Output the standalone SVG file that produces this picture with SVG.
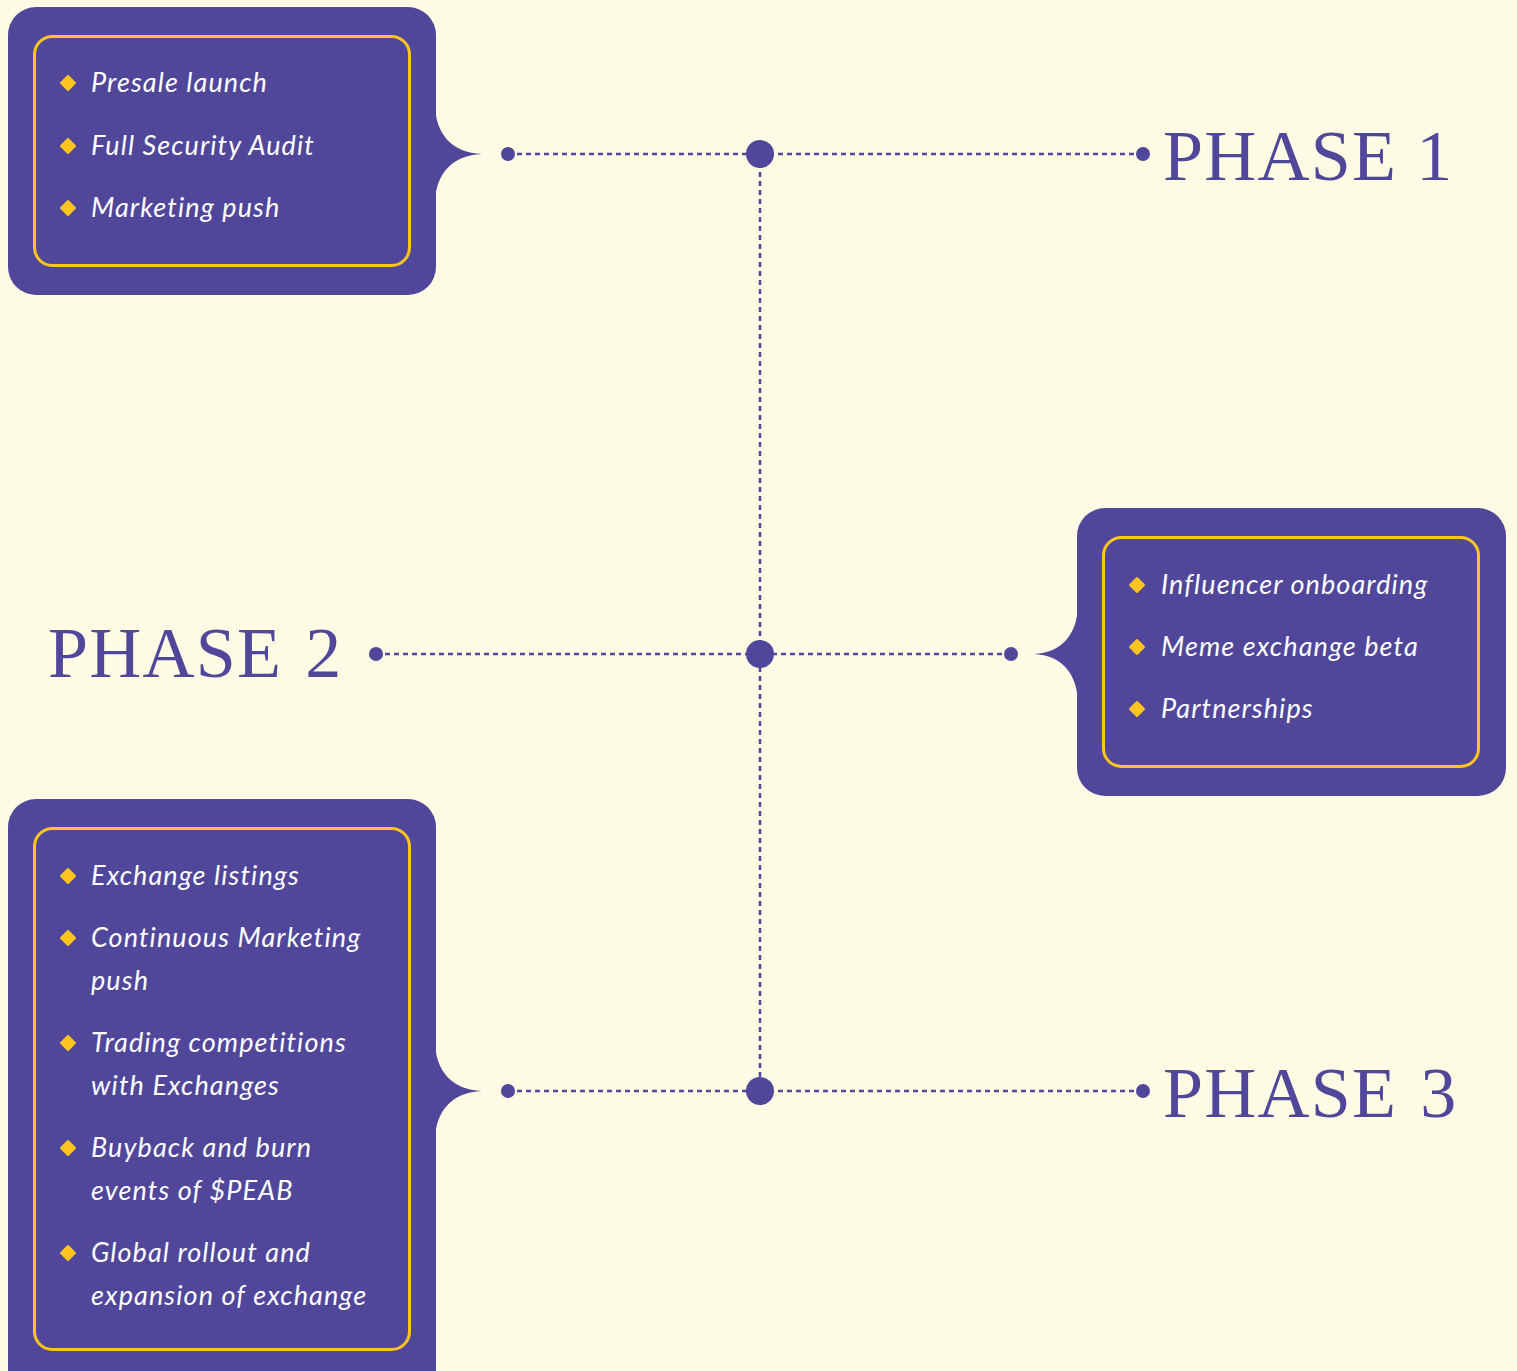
<svg xmlns="http://www.w3.org/2000/svg" width="1517" height="1371" viewBox="0 0 1517 1371">
<defs>
<style>
.bg{fill:#FDFBE3}
.card{fill:#51479A}
.inner{fill:none;stroke:#FFC51E;stroke-width:3}
.item{font-family:Lato,"Open Sans",sans-serif;font-style:italic;font-size:27px;letter-spacing:1.1px;fill:#FFFFFF}
.phase{font-family:"Liberation Serif","DejaVu Serif",serif;font-size:72px;letter-spacing:1.2px;fill:#51479A}
.dash{stroke:#51479A;stroke-width:2.5;stroke-dasharray:5 4;fill:none}
.dot{fill:#51479A}
.bul{fill:#FFC51E}
</style>
<path id="diamond" d="M0,-7 L7,0 L0,7 L-7,0 Z" stroke="#FFC51E" stroke-width="2" stroke-linejoin="round"/>
</defs>
<rect class="bg" x="0" y="0" width="1517" height="1371"/>

<g id="connectors">
<line class="dash" x1="760" y1="154" x2="760" y2="1091"/>
<line class="dash" x1="508" y1="154" x2="1143" y2="154"/>
<line class="dash" x1="376" y1="654" x2="1011" y2="654"/>
<line class="dash" x1="508" y1="1091" x2="1143" y2="1091"/>
<circle class="dot" cx="760" cy="154" r="14"/>
<circle class="dot" cx="760" cy="654" r="14"/>
<circle class="dot" cx="760" cy="1091" r="14"/>
<circle class="dot" cx="508" cy="154" r="7"/>
<circle class="dot" cx="1143" cy="154" r="7"/>
<circle class="dot" cx="376" cy="654" r="7"/>
<circle class="dot" cx="1011" cy="654" r="7"/>
<circle class="dot" cx="508" cy="1091" r="7"/>
<circle class="dot" cx="1143" cy="1091" r="7"/>
</g>

<g id="card1">
<rect class="card" x="8" y="7" width="428" height="288" rx="28"/>
<path class="card" d="M435,106 C436,134 452,153 482,154 C452,155 436,174 435,202 Z"/>
<rect class="inner" x="34.5" y="36.5" width="375" height="229" rx="18"/>
<use href="#diamond" class="bul" x="68" y="83"/>
<use href="#diamond" class="bul" x="68" y="146"/>
<use href="#diamond" class="bul" x="68" y="208"/>
<text class="item" x="91" y="92">Presale launch</text>
<text class="item" x="91" y="155">Full Security Audit</text>
<text class="item" x="91" y="217">Marketing push</text>
</g>

<g id="phase1"><text class="phase" x="1163" y="180">PHASE 1</text></g>
<g id="phase2"><text class="phase" x="48" y="677">PHASE <tspan dx="4">2</tspan></text></g>
<g id="phase3"><text class="phase" x="1163" y="1117">PHASE <tspan dx="4">3</tspan></text></g>

<g id="card2">
<rect class="card" x="1077" y="508" width="429" height="288" rx="28"/>
<path class="card" d="M1078,606 C1077,634 1062,653 1034,654 C1062,655 1077,674 1078,702 Z"/>
<rect class="inner" x="1103.5" y="537.5" width="375" height="229" rx="18"/>
<use href="#diamond" class="bul" x="1137" y="585"/>
<use href="#diamond" class="bul" x="1137" y="647"/>
<use href="#diamond" class="bul" x="1137" y="709"/>
<text class="item" x="1161" y="594">Influencer onboarding</text>
<text class="item" x="1161" y="656">Meme exchange beta</text>
<text class="item" x="1161" y="718">Partnerships</text>
</g>

<g id="card3">
<rect class="card" x="8" y="799" width="428" height="620" rx="28"/>
<path class="card" d="M435,1043 C436,1071 452,1090 482,1091 C452,1092 436,1111 435,1139 Z"/>
<rect class="inner" x="34.5" y="828.5" width="375" height="521" rx="18"/>
<use href="#diamond" class="bul" x="68" y="876"/>
<use href="#diamond" class="bul" x="68" y="938"/>
<use href="#diamond" class="bul" x="68" y="1043"/>
<use href="#diamond" class="bul" x="68" y="1148"/>
<use href="#diamond" class="bul" x="68" y="1253"/>
<text class="item" x="91" y="885">Exchange listings</text>
<text class="item" x="91" y="947">Continuous Marketing</text>
<text class="item" x="91" y="990">push</text>
<text class="item" x="91" y="1052">Trading competitions</text>
<text class="item" x="91" y="1095">with Exchanges</text>
<text class="item" x="91" y="1157">Buyback and burn</text>
<text class="item" x="91" y="1200">events of $PEAB</text>
<text class="item" x="91" y="1262">Global rollout and</text>
<text class="item" x="91" y="1305">expansion of exchange</text>
</g>
</svg>
